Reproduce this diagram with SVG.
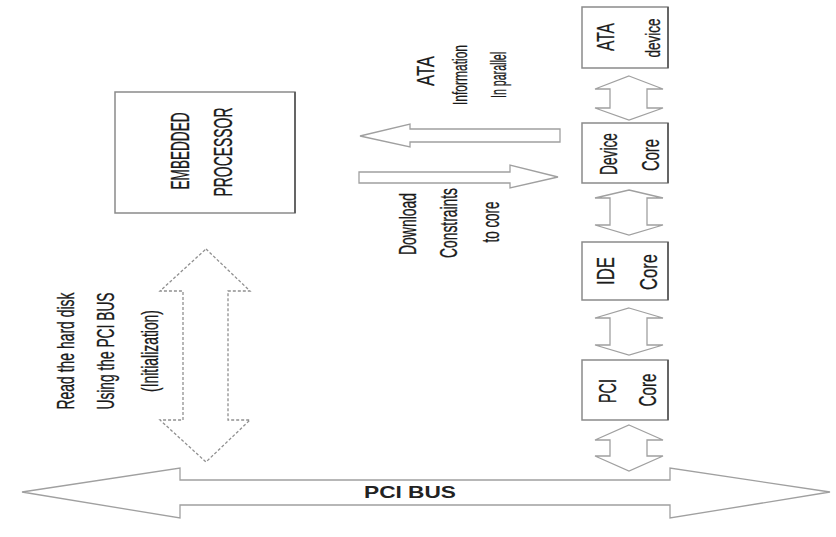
<svg xmlns="http://www.w3.org/2000/svg" width="836" height="537" viewBox="0 0 836 537">
<style>
.box{fill:#fff;stroke:#8a8a8a;stroke-width:1.5}
.edge{stroke:#555;stroke-width:1.6}
.arr{fill:#fff;stroke:#a0a0a0;stroke-width:1.3}
.dash{fill:#fff;stroke:#909090;stroke-width:1.3;stroke-dasharray:3 2}
.t{font-family:"Liberation Sans",Arial,sans-serif;fill:#1a1a1a;stroke:#1a1a1a;stroke-width:0.3;text-anchor:middle;dominant-baseline:central;font-size:24px}
.s{font-size:20px}
.bus{font-family:"Liberation Sans",Arial,sans-serif;fill:#222;text-anchor:middle;font-size:17px;font-weight:bold}
</style>
<rect width="836" height="537" fill="#fff"/>
<g id="connectors">
<polygon class="arr" points="22,492 180,468 180,480 670,480 670,468 830,492 670,518 670,505 180,505 180,518"/>
<polygon class="arr" points="629,76 663,89 647,89 647,108 663,108 629,120 595,108 610,108 610,89 595,89"/>
<polygon class="arr" points="629,190 663,198 647,198 647,225 663,225 629,235 595,225 610,225 610,198 595,198"/>
<polygon class="arr" points="629,308 663,318 647,318 647,345 663,345 629,355 595,345 610,345 610,318 595,318"/>
<polygon class="arr" points="629,425 663,440 647,440 647,456 663,456 629,471 595,456 610,456 610,440 595,440"/>
<polygon class="arr" points="360,136 410,124 410,129 560,129 560,142 410,142 410,147"/>
<polygon class="arr" points="359,172 510,172 510,165 558,177 510,188 510,183 359,183"/>
<polygon class="dash" points="206,249 250,291 228,291 228,420 250,420 206,462 160,420 183,420 183,291 160,291"/>
</g>
<g id="ata-device">
<rect class="box" x="582" y="7" width="86" height="61"/>
<line class="edge" x1="668" y1="7" x2="668" y2="68"/>
<text class="t" transform="translate(605,37) rotate(-90)" textLength="28" lengthAdjust="spacingAndGlyphs">ATA</text>
<text class="t s" transform="translate(653,38) rotate(-90)" textLength="39" lengthAdjust="spacingAndGlyphs">device</text>
</g>
<g id="device-core">
<rect class="box" x="582" y="123" width="86" height="60"/>
<line class="edge" x1="668" y1="123" x2="668" y2="183"/>
<text class="t" transform="translate(608,154) rotate(-90)" textLength="42" lengthAdjust="spacingAndGlyphs">Device</text>
<text class="t" transform="translate(650,155) rotate(-90)" textLength="32" lengthAdjust="spacingAndGlyphs">Core</text>
</g>
<g id="ide-core">
<rect class="box" x="582" y="242" width="86" height="58"/>
<line class="edge" x1="668" y1="242" x2="668" y2="300"/>
<text class="t" transform="translate(605,271) rotate(-90)" textLength="28" lengthAdjust="spacingAndGlyphs">IDE</text>
<text class="t" transform="translate(648,272) rotate(-90)" textLength="36" lengthAdjust="spacingAndGlyphs">Core</text>
</g>
<g id="pci-core">
<rect class="box" x="582" y="360" width="86" height="60"/>
<line class="edge" x1="668" y1="360" x2="668" y2="420"/>
<text class="t" transform="translate(607,391) rotate(-90)" textLength="24" lengthAdjust="spacingAndGlyphs">PCI</text>
<text class="t" transform="translate(647,390) rotate(-90)" textLength="33" lengthAdjust="spacingAndGlyphs">Core</text>
</g>
<g id="embedded-processor">
<rect class="box" x="115" y="92" width="180" height="121"/>
<line class="edge" x1="295" y1="92" x2="295" y2="213"/>
<text class="t" style="font-size:26px" transform="translate(180,151) rotate(-90)" textLength="77" lengthAdjust="spacingAndGlyphs">EMBEDDED</text>
<text class="t" style="font-size:26px" transform="translate(223,152) rotate(-90)" textLength="89" lengthAdjust="spacingAndGlyphs">PROCESSOR</text>
</g>
<g id="labels">
<text class="t" transform="translate(425,71) rotate(-90)" textLength="30" lengthAdjust="spacingAndGlyphs">ATA</text>
<text class="t" style="font-size:21px" transform="translate(459,75) rotate(-90)" textLength="60" lengthAdjust="spacingAndGlyphs">Information</text>
<text class="t" style="font-size:22px" transform="translate(498,75) rotate(-90)" textLength="46" lengthAdjust="spacingAndGlyphs">In parallel</text>
<text class="t" transform="translate(407,224) rotate(-90)" textLength="62" lengthAdjust="spacingAndGlyphs">Download</text>
<text class="t" transform="translate(448,223) rotate(-90)" textLength="70" lengthAdjust="spacingAndGlyphs">Constraints</text>
<text class="t" transform="translate(490,222) rotate(-90)" textLength="41" lengthAdjust="spacingAndGlyphs">to core</text>
<text class="t" transform="translate(65,351) rotate(-90)" textLength="117" lengthAdjust="spacingAndGlyphs">Read the hard disk</text>
<text class="t" transform="translate(105,351) rotate(-90)" textLength="117" lengthAdjust="spacingAndGlyphs">Using the PCI BUS</text>
<text class="t" transform="translate(149,351) rotate(-90)" textLength="82" lengthAdjust="spacingAndGlyphs">(Initialization)</text>
<text class="bus" x="410" y="498" textLength="92" lengthAdjust="spacingAndGlyphs">PCI BUS</text>
</g>
</svg>
